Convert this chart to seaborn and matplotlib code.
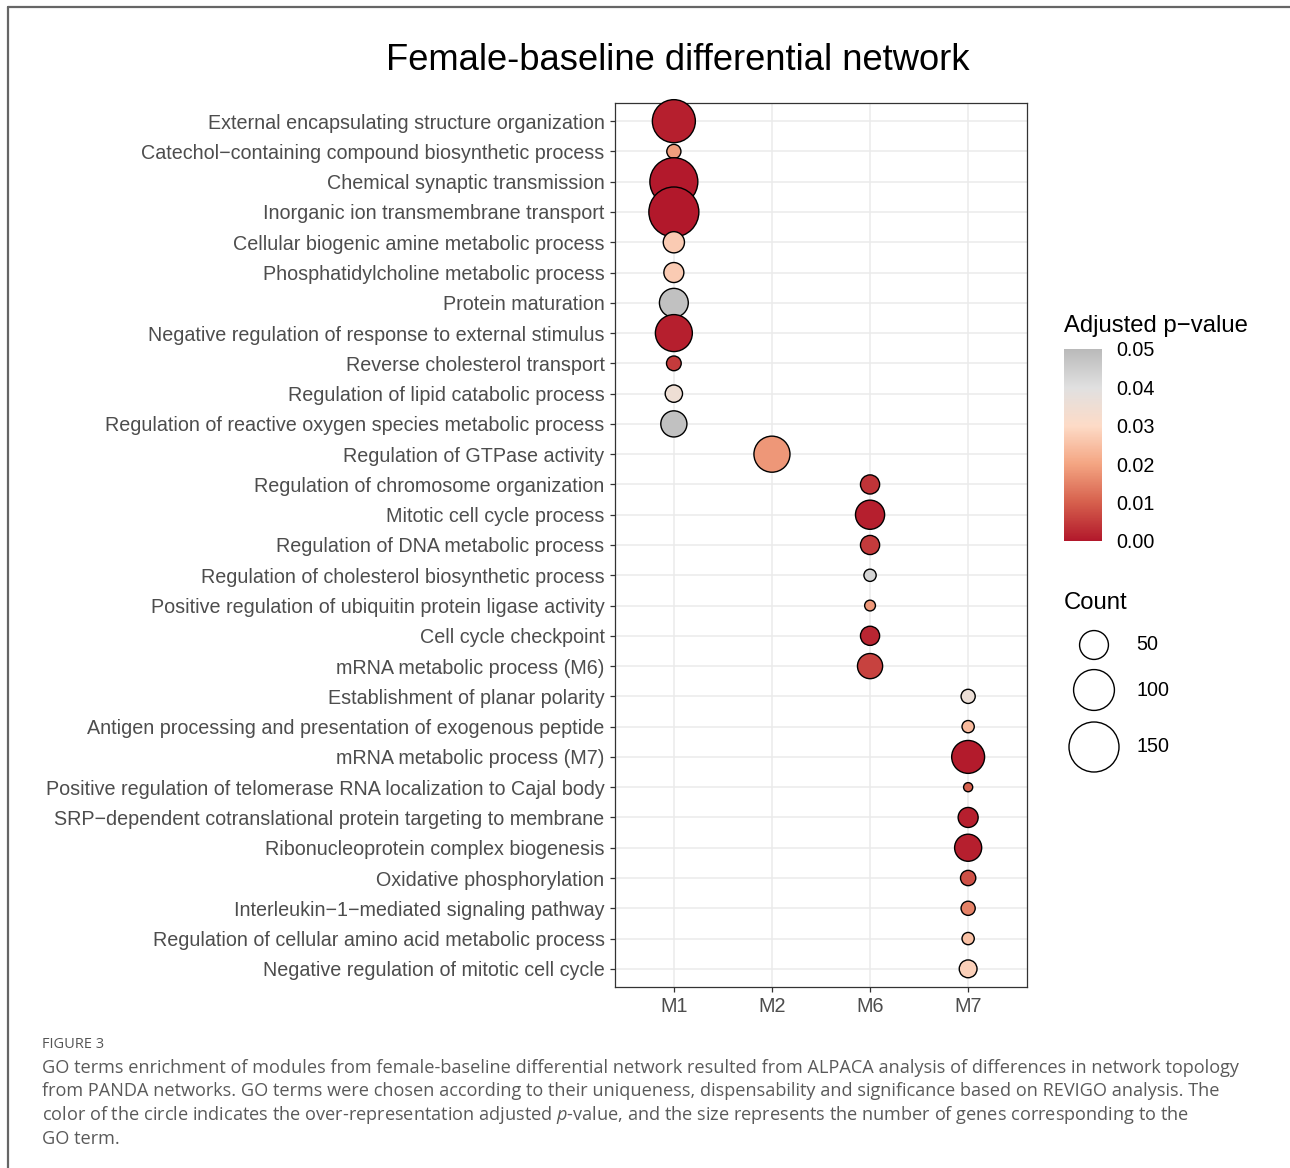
"""
plot.py
-------
GO-term enrichment dot plot for the female-baseline differential network
(ALPACA modules), with the figure caption underneath. Writes out.png.
"""

import matplotlib

matplotlib.use("Agg")

import matplotlib.pyplot as plt
import numpy as np
import pandas as pd
import seaborn as sns
from matplotlib.colors import LinearSegmentedColormap, Normalize
from matplotlib.colorbar import ColorbarBase
from matplotlib.lines import Line2D

# -----------------------------------------------------------------------------
# Data (top row first)
# -----------------------------------------------------------------------------
TERMS = [
    "External encapsulating structure organization",
    "Catechol\u2212containing compound biosynthetic process",
    "Chemical synaptic transmission",
    "Inorganic ion transmembrane transport",
    "Cellular biogenic amine metabolic process",
    "Phosphatidylcholine metabolic process",
    "Protein maturation",
    "Negative regulation of response to external stimulus",
    "Reverse cholesterol transport",
    "Regulation of lipid catabolic process",
    "Regulation of reactive oxygen species metabolic process",
    "Regulation of GTPase activity",
    "Regulation of chromosome organization",
    "Mitotic cell cycle process",
    "Regulation of DNA metabolic process",
    "Regulation of cholesterol biosynthetic process",
    "Positive regulation of ubiquitin protein ligase activity",
    "Cell cycle checkpoint",
    "mRNA metabolic process (M6)",
    "Establishment of planar polarity",
    "Antigen processing and presentation of exogenous peptide",
    "mRNA metabolic process (M7)",
    "Positive regulation of telomerase RNA localization to Cajal body",
    "SRP\u2212dependent cotranslational protein targeting to membrane",
    "Ribonucleoprotein complex biogenesis",
    "Oxidative phosphorylation",
    "Interleukin\u22121\u2212mediated signaling pathway",
    "Regulation of cellular amino acid metabolic process",
    "Negative regulation of mitotic cell cycle",
]
MODULES = ["M1"] * 11 + ["M2"] + ["M6"] * 7 + ["M7"] * 10
COUNTS = [
    111, 12, 138, 150, 27, 24, 50, 82, 13, 18, 41,
    78,
    22, 51, 22, 9, 7, 22, 38,
    12, 9, 65, 5, 24, 44, 14, 12, 9, 19,
]
PADJ = [
    0.001, 0.019, 0.0002, 0.0001, 0.027, 0.027, 0.048, 0.001, 0.005, 0.035, 0.048,
    0.018,
    0.004, 0.001, 0.005, 0.043, 0.018, 0.002, 0.006,
    0.036, 0.024, 0.0005, 0.010, 0.001, 0.001, 0.008, 0.015, 0.025, 0.028,
]
COUNT_BREAKS = [50, 100, 150]
PVAL_BREAKS = [0.00, 0.01, 0.02, 0.03, 0.04, 0.05]
MODULE_ORDER = ["M1", "M2", "M6", "M7"]

TITLE = "Female-baseline differential network"
CAPTION_HEAD = "FIGURE 3"
CAPTION_LINES = [
    "GO terms enrichment of modules from female-baseline differential network "
    "resulted from ALPACA analysis of differences in network topology",
    "from PANDA networks. GO terms were chosen according to their uniqueness, "
    "dispensability and significance based on REVIGO analysis. The",
    "color of the circle indicates the over-representation adjusted $p$-value, "
    "and the size represents the number of genes corresponding to the",
    "GO term.",
]

# -----------------------------------------------------------------------------
# Style
# -----------------------------------------------------------------------------
W, H, DPI = 1290, 1168, 100
FONT = ["Liberation Sans", "DejaVu Sans"]
CAP_FONT = ["Open Sans", "DejaVu Sans"]
PVAL_CMAP = LinearSegmentedColormap.from_list(
    "padj",
    ["#B2182B", "#D6604D", "#F4A582", "#FDDBC7", "#E0E0E0", "#BABABA"],
)
PVAL_NORM = Normalize(0.0, 0.05)
AREA_PER_COUNT = 8.64  # pt^2 per gene -> area-proportional circles
LABEL_SIZE = 14.2


def fx(px):
    return px / W


def fy(py):
    return 1 - py / H


def main():
    sns.set_theme(style="white")
    plt.rcParams["font.family"] = FONT
    plt.rcParams["mathtext.fontset"] = "custom"
    plt.rcParams["mathtext.it"] = "Open Sans:italic"
    plt.rcParams["mathtext.rm"] = "Open Sans"

    df = pd.DataFrame(
        {"term": TERMS, "module": MODULES, "count": COUNTS, "padj": PADJ}
    )
    df["module"] = pd.Categorical(df["module"], MODULE_ORDER)
    df["term"] = pd.Categorical(df["term"], TERMS)

    fig = plt.figure(figsize=(W / DPI, H / DPI), dpi=DPI)
    ax = fig.add_axes([fx(615), fy(987), fx(1027 - 615), (987 - 103) / H])

    sns.scatterplot(
        data=df,
        x="module",
        y="term",
        hue="padj",
        palette=PVAL_CMAP,
        hue_norm=PVAL_NORM,
        size="count",
        sizes=(0, AREA_PER_COUNT * 150),
        size_norm=(0, 150),
        edgecolor="black",
        linewidth=1.0,
        legend=False,
        zorder=3,
        clip_on=False,
        ax=ax,
    )

    ax.set_xlim(-0.6, len(MODULE_ORDER) - 0.4)
    ax.set_ylim(len(TERMS) - 0.4, -0.6)
    ax.set_xlabel("")
    ax.set_ylabel("")
    ax.grid(True, color="#EBEBEB", linewidth=1.1, zorder=0)
    ax.set_axisbelow(True)
    for sp in ax.spines.values():
        sp.set_visible(True)
        sp.set_color("#333333")
        sp.set_linewidth(0.9)
    ax.tick_params(
        axis="both", which="major", length=3.5, width=0.9, color="#333333",
        labelcolor="#4D4D4D", labelsize=LABEL_SIZE, pad=4,
        left=True, bottom=True,
    )

    fig.text(fx(678), fy(60), TITLE, ha="center", va="center", fontsize=26.2,
             color="black")

    # colour bar (Adjusted p-value)
    fig.text(fx(1064), fy(326), "Adjusted p\u2212value", ha="left", va="center",
             fontsize=17.2, color="black")
    cax = fig.add_axes([fx(1064), fy(541), fx(38), 192 / H])
    cb = ColorbarBase(cax, cmap=PVAL_CMAP, norm=PVAL_NORM, ticks=PVAL_BREAKS)
    cb.outline.set_visible(False)
    cb.ax.set_yticklabels([f"{v:.2f}" for v in PVAL_BREAKS])
    cax.yaxis.set_ticks_position("both")
    cax.tick_params(axis="y", direction="in", length=7.5, width=0.8,
                    color="white", labelcolor="black", labelsize=LABEL_SIZE,
                    labelleft=False, labelright=True, pad=10)

    # size legend (Count)
    fig.text(fx(1064), fy(603), "Count", ha="left", va="center",
             fontsize=17.2, color="black")
    kax = fig.add_axes([fx(1060), fy(780), fx(140), 160 / H])
    kax.set_xlim(1060, 1200)
    kax.set_ylim(780, 620)
    kax.axis("off")
    key_y = [645, 690, 747]
    kax.scatter([1094] * len(COUNT_BREAKS), key_y,
                s=[AREA_PER_COUNT * c for c in COUNT_BREAKS],
                facecolor="none", edgecolor="black", linewidth=1.0,
                clip_on=False)
    for c, yy in zip(COUNT_BREAKS, key_y):
        kax.text(1136, yy, str(c), ha="left", va="center", fontsize=LABEL_SIZE,
                 color="black")

    # caption
    fig.text(fx(42), fy(1045), CAPTION_HEAD, ha="left", va="center",
             fontsize=10.5, color="#555555", family=CAP_FONT)
    for line, yy in zip(CAPTION_LINES, [1068, 1091, 1115, 1139]):
        fig.text(fx(42), fy(yy), line, ha="left", va="center",
                 fontsize=13.1, color="#5A5A5A", family=CAP_FONT)

    # page frame (left and top edges)
    frame = dict(color="#666666", linewidth=1.6, transform=fig.transFigure)
    fig.add_artist(Line2D([fx(8), fx(8)], [0, fy(7)], **frame))
    fig.add_artist(Line2D([fx(8), 1], [fy(7), fy(7)], **frame))

    fig.savefig("out.png", dpi=DPI, facecolor="white")
    plt.close(fig)


if __name__ == "__main__":
    main()
